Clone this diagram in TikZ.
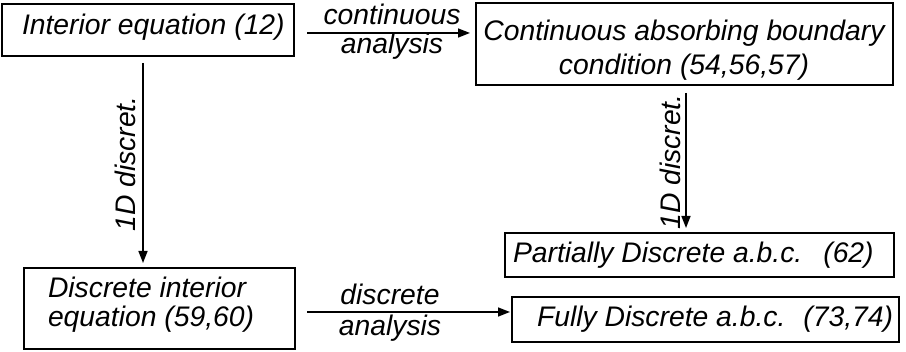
\documentclass[tikz,border=0pt]{standalone}
\usepackage{fontspec}
\setmainfont{Liberation Sans}
\usetikzlibrary{arrows.meta}
\begin{document}
\begin{tikzpicture}[x=1pt,y=-1pt,
  box/.style={draw, line width=1.9pt, inner sep=0pt, outer sep=0pt},
  txt/.style={inner sep=0pt, outer sep=0pt, font=\fontsize{28.3}{34}\selectfont\itshape},
  arr/.style={line width=1.6pt, -{Triangle[length=12pt,width=9pt]}}]
\useasboundingbox (0,0) rectangle (906,352);
% boxes
\node[box, minimum width=292pt, minimum height=52pt] (A) at (148,30) {};
\node[box, minimum width=417pt, minimum height=82pt] (B) at (684.5,44) {};
\node[box, minimum width=389pt, minimum height=44pt] (C) at (699.5,255) {};
\node[box, minimum width=387pt, minimum height=45pt] (D) at (705.5,319.5) {};
\node[box, minimum width=271pt, minimum height=81pt] (E) at (159.5,308.5) {};
% texts
\node[txt, anchor=base west] (tA) at (22,35) {Interior equation (12)};
\node[txt, anchor=base, align=center] (tB) at (684,75) {Continuous absorbing boundary\\condition (54,56,57)};
\node[txt, anchor=base west] (tC) at (513,263) {Partially Discrete a.b.c.\hspace{21pt}(62)};
\node[txt, anchor=base west] (tD) at (537,327) {Fully Discrete a.b.c.\hspace{18pt}(73,74)};
\node[txt, anchor=base west, align=left, font=\fontsize{28.3}{29}\selectfont\itshape] (tE) at (48,327) {Discrete interior\\equation (59,60)};
% connectors
\draw[arr, shorten <=13pt, shorten >=6pt] (A.east |- 0,33) -- (B.west |- 0,33);
\draw[arr, shorten <=7pt, shorten >=5pt] (A.south -| 143,0) -- (E.north -| 143,0);
\draw[arr, shorten <=8pt, shorten >=5pt] (B.south -| 686,0) -- (C.north -| 686,0);
\draw[arr, shorten <=12pt, shorten >=2pt] (E.east |- 0,312) -- (D.west |- 0,312);
% connector labels
\node[txt, anchor=base] (l1) at (392,25) {continuous};
\node[txt, anchor=base] (l2) at (392,54) {analysis};
\node[txt, anchor=base] (l3) at (390,305) {discrete};
\node[txt, anchor=base] (l4) at (390,336) {analysis};
\node[txt, anchor=base, rotate=90] (l5) at (135,164) {1D discret.};
\node[txt, anchor=base, rotate=90] (l6) at (680,162) {1D discret.};
\end{tikzpicture}
\end{document}
